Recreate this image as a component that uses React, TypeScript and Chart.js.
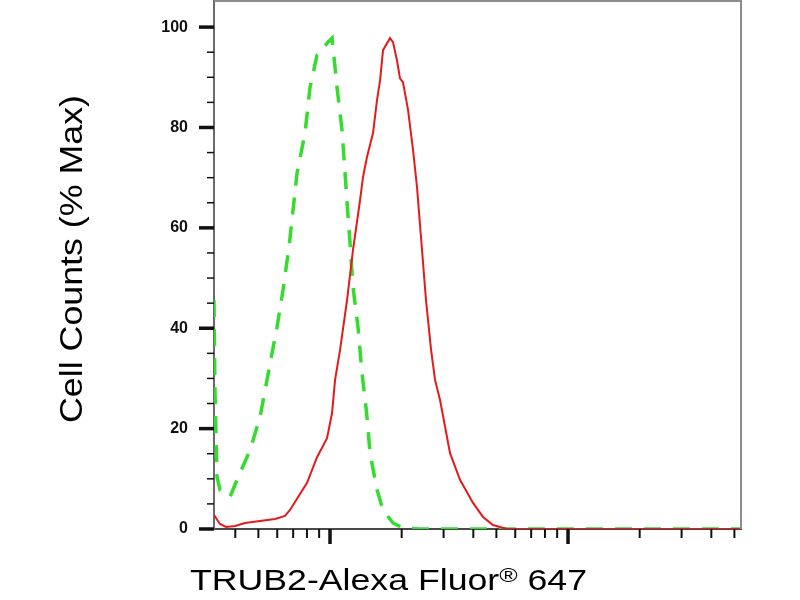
import { useEffect, useRef } from "react";
import { Chart, registerables } from "chart.js";

Chart.register(...registerables);

// TRUB2 stained cells (solid red)
const redIntensity = [
	3.255, 3.45, 3.656, 3.989, 4.394, 5.08, 5.874, 6.47, 6.791, 8.006, 8.819, 9.714, 10.2, 10.5, 11.02, 11.79,
	12.49, 13.37, 13.76, 14.3, 15.16, 15.76, 16.23, 16.7, 17.87, 18.39, 19.11, 19.68, 20.26, 21.27, 22.33, 23.21,
	24.35, 25.31, 26.58, 27.62, 28.99, 31.93, 35.17, 39.89, 43.94, 48.39, 55.41, 92.5, 221, 533,
];
const redCounts = [
	2.8, 1.0, 0.4, 0.6, 1.2, 1.6, 2.0, 2.6, 3.8, 9.2, 14.3, 18.1, 23.1, 29.7, 35.7, 45.6,
	55.6, 65.5, 70.1, 74.1, 78.9, 85.5, 89.4, 95.4, 97.8, 97.0, 93.4, 89.8, 89.0, 83.5, 75.5, 68,
	55.6, 45.6, 35.7, 29.7, 25.7, 15.1, 9.8, 5.2, 2.4, 0.8, 0, 0, 0, 0,
];

// isotype / unstained control (dashed green)
const greenIntensity = [
	3.255, 3.287, 3.351, 3.45, 3.8, 4.067, 4.612, 5.08, 5.436, 5.705, 5.987, 6.346, 6.725, 6.991, 7.267, 7.852,
	8.241, 8.819, 9.078, 9.714, 10.2, 10.7, 11.23, 11.56, 11.79, 12.13, 12.49, 13.11, 13.63, 14.03, 14.3, 14.73,
	15.76, 16.7, 18.39, 20.26, 23.88, 533,
];
const greenCounts = [
	45.6, 27, 10.4, 7.8, 6.4, 9.8, 15.7, 22.3, 29.7, 35, 40.2, 47.6, 56.2, 63.5, 70.9, 78.9,
	88, 94.4, 94.8, 96.8, 97.8, 88, 79.5, 71, 65, 57.2, 48.2, 40.2, 31, 26, 22.3, 15.1,
	7.8, 3.8, 1.2, 0.2, 0, 0,
];

const yMajorTicks = [0, 20, 40, 60, 80, 100];
const yMinorTicks = [5, 10, 15, 25, 30, 35, 45, 50, 55, 65, 70, 75, 85, 90, 95];
const xMajorTicks = [10, 100];
const xMinorTicks = [4, 5, 6, 7, 8, 9, 20, 30, 40, 50, 60, 70, 80, 90, 200, 300, 400, 500];

const yTitle = "Cell Counts (% Max)";
const xTitleMain = "TRUB2-Alexa Fluor";
const xTitleMark = "®";
const xTitleTail = " 647";

const FONT = "'Liberation Sans', Arial, sans-serif";

const decorPlugin = {
	id: "decor",
	afterDraw(chart: any) {
		const { ctx, chartArea: a, scales } = chart;
		const xs = scales.x;
		const ys = scales.y;
		ctx.save();

		// top / right frame
		ctx.strokeStyle = "#8c8c8c";
		ctx.lineWidth = 2;
		ctx.beginPath();
		ctx.moveTo(a.left, a.top);
		ctx.lineTo(a.right, a.top);
		ctx.lineTo(a.right, a.bottom);
		ctx.stroke();

		// y tick marks
		ctx.strokeStyle = "#111";
		ctx.lineWidth = 1.5;
		yMinorTicks.forEach((v) => {
			const py = ys.getPixelForValue(v);
			ctx.beginPath();
			ctx.moveTo(a.left - 7, py);
			ctx.lineTo(a.left, py);
			ctx.stroke();
		});
		ctx.lineWidth = 3.5;
		yMajorTicks.forEach((v) => {
			const py = ys.getPixelForValue(v);
			ctx.beginPath();
			ctx.moveTo(a.left - 15, py);
			ctx.lineTo(a.left, py);
			ctx.stroke();
		});

		// x tick marks
		ctx.lineWidth = 2;
		xMinorTicks.forEach((v) => {
			const px = xs.getPixelForValue(v);
			ctx.beginPath();
			ctx.moveTo(px, a.bottom);
			ctx.lineTo(px, a.bottom + 9);
			ctx.stroke();
		});
		ctx.lineWidth = 3.5;
		xMajorTicks.forEach((v) => {
			const px = xs.getPixelForValue(v);
			ctx.beginPath();
			ctx.moveTo(px, a.bottom);
			ctx.lineTo(px, a.bottom + 15);
			ctx.stroke();
		});

		// axis titles (slightly wide lettering as in the original)
		ctx.fillStyle = "#000";
		ctx.textBaseline = "alphabetic";
		ctx.textAlign = "left";

		ctx.save();
		ctx.font = `31px ${FONT}`;
		const yw = ctx.measureText(yTitle).width;
		ctx.translate(82, 423);
		ctx.rotate(-Math.PI / 2);
		ctx.scale(328 / yw, 1);
		ctx.fillText(yTitle, 0, 0);
		ctx.restore();

		ctx.save();
		ctx.font = `30px ${FONT}`;
		const w1 = ctx.measureText(xTitleMain).width;
		const w3 = ctx.measureText(xTitleTail).width;
		ctx.font = `21px ${FONT}`;
		const w2 = ctx.measureText(xTitleMark).width;
		ctx.translate(190, 590);
		ctx.scale(397 / (w1 + w2 + w3), 1);
		ctx.font = `30px ${FONT}`;
		ctx.fillText(xTitleMain, 0, 0);
		ctx.fillText(xTitleTail, w1 + w2, 0);
		ctx.font = `21px ${FONT}`;
		ctx.fillText(xTitleMark, w1, -8);
		ctx.restore();

		ctx.restore();
	},
};

export default function App() {
	const canvasRef = useRef<HTMLCanvasElement>(null);

	useEffect(() => {
		if (!canvasRef.current) return;
		const chart = new Chart(canvasRef.current, {
			type: "line",
			data: {
				datasets: [
					{
						label: "TRUB2",
						data: redIntensity.map((x, i) => ({ x, y: redCounts[i] })),
						borderColor: "#e31b1b",
						borderWidth: 2,
						pointRadius: 0,
						tension: 0,
					},
					{
						label: "Control",
						data: greenIntensity.map((x, i) => ({ x, y: greenCounts[i] })),
						borderColor: "#35dc2f",
						borderWidth: 3.5,
						borderDash: [17, 12],
						pointRadius: 0,
						tension: 0,
					},
				],
			},
			options: {
				animation: false,
				responsive: false,
				layout: { padding: { top: 1, right: 59, left: 0, bottom: 0 } },
				plugins: {
					legend: { display: false },
					tooltip: { enabled: false },
				},
				scales: {
					x: {
						type: "logarithmic",
						min: 3.255,
						max: 533,
						grid: { display: false, drawTicks: false },
						border: { display: true, color: "#4a4a4a", width: 2 },
						ticks: { display: false },
						afterFit: (scale: any) => {
							scale.height = 71;
							scale.paddingLeft = 0;
							scale.paddingRight = 0;
						},
					},
					y: {
						type: "linear",
						min: 0,
						max: 105.2,
						grid: { display: false, drawTicks: false },
						border: { display: true, color: "#6a6a6a", width: 2 },
						ticks: {
							stepSize: 20,
							includeBounds: false,
							padding: 26,
							color: "#111",
							font: { family: FONT, size: 16, weight: "bold" },
						},
						afterFit: (scale: any) => {
							scale.width = 214;
							scale.paddingTop = 0;
							scale.paddingBottom = 0;
						},
					},
				},
			},
			plugins: [decorPlugin],
		});
		return () => chart.destroy();
	}, []);

	return (
		<div style={{ position: "absolute", left: 0, top: 0, width: 800, height: 600, background: "#fff" }}>
			<canvas ref={canvasRef} width={800} height={600} />
		</div>
	);
}
